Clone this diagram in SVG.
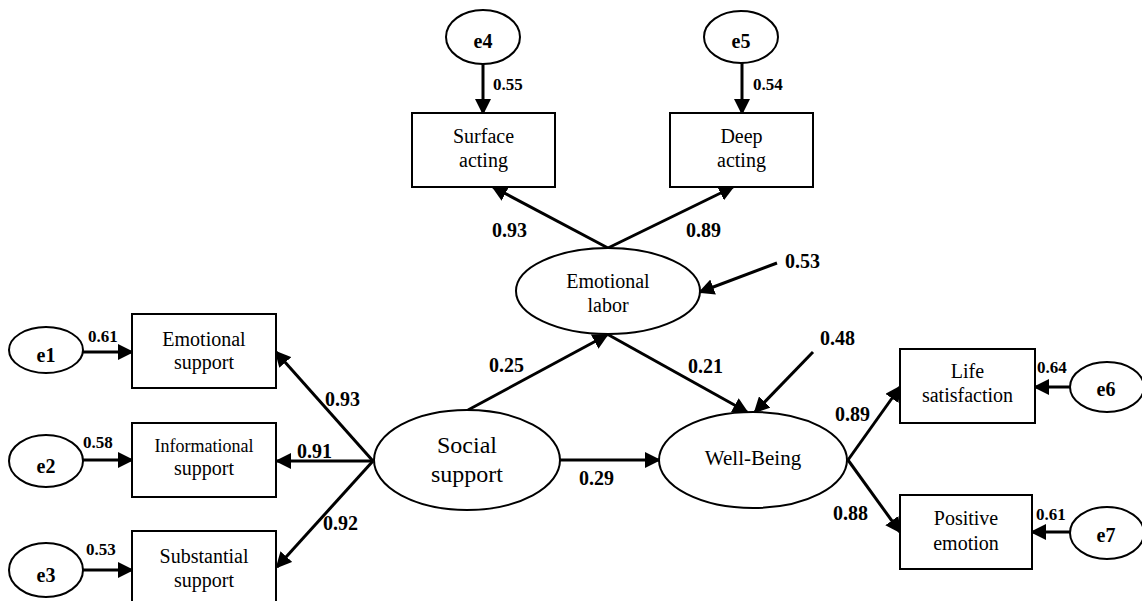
<svg xmlns="http://www.w3.org/2000/svg" width="1142" height="601" viewBox="0 0 1142 601">
<style>
.box{fill:#fff;stroke:#000;stroke-width:2}
.ell{fill:#fff;stroke:#000;stroke-width:2}
.t{font-family:"Liberation Serif","Times New Roman",serif;font-size:20px;fill:#000;text-anchor:middle}
.e{font-family:"Liberation Serif","Times New Roman",serif;font-size:20px;font-weight:bold;fill:#000;text-anchor:middle}
.lb{font-family:"Liberation Serif","Times New Roman",serif;font-size:20px;font-weight:bold;fill:#000}
.ls{font-family:"Liberation Serif","Times New Roman",serif;font-size:17px;font-weight:bold;fill:#000}
.c{stroke:#000;stroke-width:3;fill:none;marker-end:url(#ah)}
</style>
<defs>
<marker id="ah" markerUnits="userSpaceOnUse" markerWidth="16" markerHeight="16" refX="14" refY="8" orient="auto" viewBox="0 0 16 16">
<path d="M0,0 L16,8 L0,16 Z" fill="#000"/>
</marker>
</defs>
<rect width="1142" height="601" fill="#fff"/>
<g id="connectors">
<line class="c" x1="83" y1="352" x2="132" y2="352"/>
<line class="c" x1="83" y1="460" x2="132" y2="460"/>
<line class="c" x1="83" y1="570" x2="132" y2="570"/>
<line class="c" x1="373" y1="461" x2="276" y2="352"/>
<line class="c" x1="373" y1="461" x2="277" y2="461"/>
<line class="c" x1="373" y1="461" x2="277" y2="567"/>
<line class="c" x1="483" y1="63" x2="483" y2="113"/>
<line class="c" x1="742" y1="63" x2="742" y2="113"/>
<line class="c" x1="608" y1="248" x2="493" y2="187"/>
<line class="c" x1="608" y1="248" x2="733" y2="187"/>
<line class="c" x1="777" y1="263" x2="700" y2="292"/>
<line class="c" x1="468" y1="410" x2="607" y2="335"/>
<line class="c" x1="607" y1="334" x2="747" y2="412"/>
<line class="c" x1="813" y1="352" x2="755" y2="412"/>
<line class="c" x1="560" y1="460" x2="659" y2="460"/>
<line class="c" x1="848" y1="460" x2="900" y2="387"/>
<line class="c" x1="848" y1="460" x2="900" y2="532"/>
<line class="c" x1="1070" y1="387" x2="1035" y2="387"/>
<line class="c" x1="1071" y1="532" x2="1032" y2="532"/>
</g>
<g id="labels">
<text class="ls" x="88" y="342">0.61</text>
<text class="ls" x="83" y="448">0.58</text>
<text class="ls" x="86" y="555">0.53</text>
<text class="lb" x="325" y="406">0.93</text>
<text class="lb" x="297" y="458">0.91</text>
<text class="lb" x="323" y="530">0.92</text>
<text class="ls" x="493" y="90">0.55</text>
<text class="ls" x="753" y="90">0.54</text>
<text class="lb" x="492" y="237">0.93</text>
<text class="lb" x="686" y="237">0.89</text>
<text class="lb" x="785" y="268">0.53</text>
<text class="lb" x="489" y="372">0.25</text>
<text class="lb" x="688" y="373">0.21</text>
<text class="lb" x="820" y="345">0.48</text>
<text class="lb" x="579" y="485">0.29</text>
<text class="lb" x="835" y="421">0.89</text>
<text class="lb" x="833" y="520">0.88</text>
<text class="ls" x="1037" y="373">0.64</text>
<text class="ls" x="1036" y="520">0.61</text>
</g>
<g id="e1"><ellipse class="ell" cx="46" cy="350" rx="37" ry="23"/><text class="e" x="46" y="362">e1</text></g>
<g id="e2"><ellipse class="ell" cx="46" cy="461" rx="37" ry="26"/><text class="e" x="46" y="473">e2</text></g>
<g id="e3"><ellipse class="ell" cx="46" cy="570" rx="37" ry="27"/><text class="e" x="46" y="582">e3</text></g>
<g id="e4"><ellipse class="ell" cx="483" cy="37" rx="37" ry="27"/><text class="e" x="483" y="48">e4</text></g>
<g id="e5"><ellipse class="ell" cx="741" cy="37" rx="37" ry="26"/><text class="e" x="741" y="48">e5</text></g>
<g id="e6"><ellipse class="ell" cx="1107" cy="387" rx="37" ry="25"/><text class="e" x="1106" y="396">e6</text></g>
<g id="e7"><ellipse class="ell" cx="1107" cy="533" rx="37" ry="26"/><text class="e" x="1106" y="542">e7</text></g>
<g id="emotional-support"><rect class="box" x="132" y="314" width="144" height="74"/><text class="t" x="204" y="346">Emotional</text><text class="t" x="204" y="369">support</text></g>
<g id="informational-support"><rect class="box" x="132" y="423" width="144" height="74"/><text class="t" x="204" y="452" style="font-size:18px">Informational</text><text class="t" x="204" y="475">support</text></g>
<g id="substantial-support"><rect class="box" x="132" y="531" width="144" height="74"/><text class="t" x="204" y="563">Substantial</text><text class="t" x="204" y="587">support</text></g>
<g id="surface-acting"><rect class="box" x="412" y="113" width="143" height="74"/><text class="t" x="483.5" y="143">Surface</text><text class="t" x="483.5" y="167">acting</text></g>
<g id="deep-acting"><rect class="box" x="670" y="113" width="143" height="74"/><text class="t" x="741.5" y="143">Deep</text><text class="t" x="741.5" y="167">acting</text></g>
<g id="life-satisfaction"><rect class="box" x="900" y="349" width="135" height="74"/><text class="t" x="967.5" y="378">Life</text><text class="t" x="967.5" y="402">satisfaction</text></g>
<g id="positive-emotion"><rect class="box" x="900" y="495" width="132" height="74"/><text class="t" x="966" y="525">Positive</text><text class="t" x="966" y="550">emotion</text></g>
<g id="emotional-labor"><ellipse class="ell" cx="608" cy="291" rx="92" ry="43"/><text class="t" x="608" y="288">Emotional</text><text class="t" x="608" y="312">labor</text></g>
<g id="social-support"><ellipse class="ell" cx="467" cy="460" rx="93" ry="50"/><text class="t" x="467" y="453" style="font-size:24px">Social</text><text class="t" x="467" y="482" style="font-size:24px">support</text></g>
<g id="well-being"><ellipse class="ell" cx="753" cy="460" rx="94" ry="48"/><text class="t" x="753" y="465" style="font-size:21px">Well-Being</text></g>
</svg>
